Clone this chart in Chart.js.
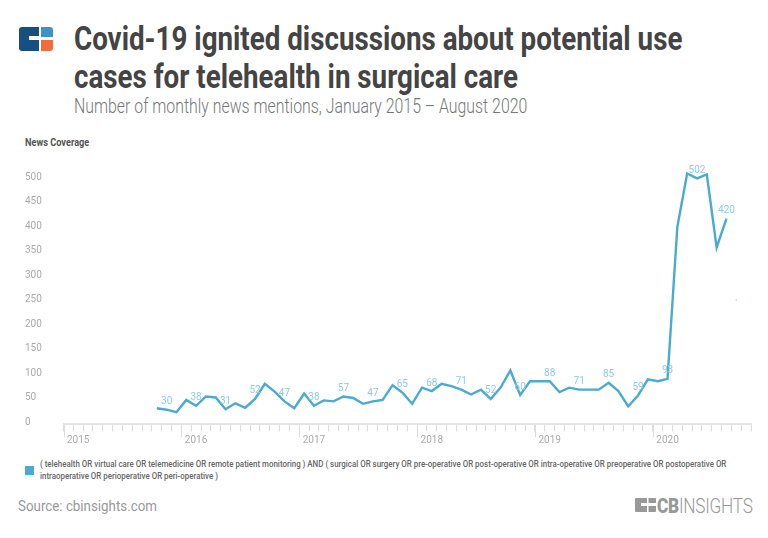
<!DOCTYPE html>
<html>
<head>
<meta charset="utf-8">
<script src="https://cdn.jsdelivr.net/npm/chart.js@4/dist/chart.umd.min.js"></script>
<style>
  html, body { margin: 0; padding: 0; background: #fff; }
  body { width: 768px; height: 538px; position: relative; overflow: hidden; font-family: Roboto, sans-serif; }
  .txt { position: absolute; white-space: nowrap; transform-origin: left center; }
  .title { left: 74px; font-size: 34px; font-weight: 700; color: #444; line-height: 38px; transform: scaleX(0.816); }
  .sub { left: 74px; top: 94px; font-size: 20px; font-weight: 300; color: #777; line-height: 24px; transform: scaleX(0.793); }
  .axis-name { left: 25px; top: 137px; font-size: 10px; font-weight: 700; color: #555; line-height: 12px; transform: scaleX(0.92); }
  .legend-box { position: absolute; left: 25px; top: 466px; width: 9px; height: 9px; background: #4aabd1; }
  .legend { left: 40px; font-size: 9.5px; font-weight: 500; color: #666; line-height: 12px; transform: scaleX(0.834); }
  .source { left: 18px; top: 498px; font-size: 14.5px; color: #999; line-height: 18px; transform: scaleX(0.92); }
  .brand { left: 657px; top: 494px; font-size: 21px; color: #999; line-height: 24px; transform: scaleX(0.82); letter-spacing: -0.3px; }
  .brand b { font-weight: 900; }
  .brand span { font-weight: 300; }
  canvas { position: absolute; left: 0; top: 150px; }
  svg { position: absolute; }
</style>
</head>
<body>
<svg style="left:19px;top:27px" width="34" height="24" viewBox="0 0 34 24">
  <path d="M3 0H20V9H10V13H20V24H3Q0 24 0 21V3Q0 0 3 0Z" fill="#174f80"/>
  <path d="M22 0H31Q34 0 34 3V10H22Z" fill="#3f93c4"/>
  <path d="M22 13H34V21Q34 24 31 24H22Z" fill="#f26b38"/>
</svg>
<div class="txt title" style="top:19px">Covid-19 ignited discussions about potential use</div>
<div class="txt title" style="top:57px">cases for telehealth in surgical care</div>
<div class="txt sub">Number of monthly news mentions, January 2015 – August 2020</div>
<div class="txt axis-name">News Coverage</div>
<canvas id="newsChart" width="768" height="300"></canvas>
<div class="legend-box"></div>
<div class="txt legend" style="top:458px">( telehealth OR virtual care OR telemedicine OR remote patient monitoring ) AND ( surgical OR surgery OR pre-operative OR post-operative OR intra-operative OR preoperative OR postoperative OR</div>
<div class="txt legend" style="top:470px">intraoperative OR perioperative OR peri-operative )</div>
<div class="txt source">Source: cbinsights.com</div>
<svg style="left:635px;top:498px" width="21" height="14" viewBox="0 0 21 14">
  <path d="M1 0H12V5H6V8H12V14H1Q0 14 0 13V1Q0 0 1 0Z" fill="#999"/>
  <path d="M13.5 0H20Q21 0 21 1V5H13.5Z" fill="#999"/>
  <path d="M13.5 8H21V13Q21 14 20 14H13.5Z" fill="#999"/>
</svg>
<div class="txt brand"><b>CB</b><span>INSIGHTS</span></div>

<script>
// axis values
const years = [2015, 2016, 2017, 2018, 2019, 2020];
const monthNames = ['Jan', 'Feb', 'Mar', 'Apr', 'May', 'Jun', 'Jul', 'Aug', 'Sep', 'Oct', 'Nov', 'Dec'];
const yTicks = [0, 50, 100, 150, 200, 250, 300, 350, 400, 450, 500];

// Jan 2015 - Oct 2020, one entry per month
const mentions = [
  null, null, null, null, null, null, null, null, null, 33, 30, 25,
  50, 38, 57, 55, 31, 43, 34, 52, 83, 67, 47, 33,
  63, 38, 49, 47, 57, 54, 42, 47, 50, 80, 65, 42,
  75, 68, 83, 78, 71, 61, 71, 52, 75, 110, 60, 88,
  88, 88, 66, 75, 71, 71, 71, 85, 68, 37, 59, 92,
  88, 93, 403, 512, 502, 510, 361, 420, 254, null
];
const seriesName = 'News Coverage';
const loneIndex = 68; // Sep 2020 is not joined to the line in the reference

const categories = [];
for (const year of years) {
  for (const month of monthNames) {
    if (categories.length < mentions.length) categories.push(month + ' ' + year);
  }
}

// Long year ticks, pale y labels and the every-third-month value labels
const extras = {
  id: 'extras',
  afterDraw(chart) {
    const c = chart.ctx;
    const x = chart.scales.x;
    const y = chart.scales.y;
    const step = x.getPixelForValue(1) - x.getPixelForValue(0);
    c.save();

    c.strokeStyle = '#dddddd';
    c.lineWidth = 1;
    for (let i = 0; i < categories.length; i += 12) {
      const px = Math.round(x.getPixelForValue(i) - step / 2) + 0.5;
      c.beginPath();
      c.moveTo(px, y.bottom);
      c.lineTo(px, y.bottom + 13);
      c.stroke();
    }

    c.font = '10px Roboto';
    c.fillStyle = '#aaaaaa';
    c.textAlign = 'left';
    c.textBaseline = 'middle';
    for (const v of yTicks) {
      c.fillText(String(v), 25, y.getPixelForValue(v) - 2);
    }

    c.fillStyle = '#8ecbe4';
    c.textAlign = 'center';
    mentions.forEach((v, i) => {
      if (v !== null && i % 3 === 1) {
        c.fillText(String(v), x.getPixelForValue(i), y.getPixelForValue(v) - 8);
      }
    });
    c.restore();
  }
};

new Chart(document.getElementById('newsChart'), {
  type: 'line',
  data: {
    labels: categories,
    datasets: [{
      label: seriesName,
      data: mentions,
      borderColor: '#4aabd1',
      backgroundColor: '#4aabd1',
      borderWidth: 2.4,
      tension: 0,
      spanGaps: false,
      segment: {
        borderColor: ctx => (ctx.p1DataIndex === loneIndex ? 'rgba(0,0,0,0)' : undefined)
      },
      pointRadius: ctx => (ctx.dataIndex === loneIndex ? 0.8 : 0),
      pointBorderWidth: 0,
      pointBackgroundColor: '#a8d7ea'
    }]
  },
  options: {
    responsive: false,
    animation: false,
    layout: { padding: { left: 63.5, right: 17, top: 9.8, bottom: 0 } },
    plugins: { legend: { display: false }, tooltip: { enabled: false } },
    scales: {
      x: {
        type: 'category',
        offset: true,
        afterFit: scale => { scale.height = 25.6; },
        border: { color: '#e4e4e4', width: 2 },
        grid: { offset: true, drawOnChartArea: false, tickLength: 7, tickColor: '#dddddd', tickWidth: 1 },
        ticks: {
          autoSkip: false,
          maxRotation: 0,
          padding: 3,
          color: '#aaaaaa',
          font: { family: 'Roboto', size: 10 },
          callback: function (value, index) {
            return index % 12 === 1 ? categories[index].split(' ')[1] : '';
          }
        }
      },
      y: { display: false, min: 0, max: 540 }
    }
  },
  plugins: [extras]
});
</script>
</body>
</html>
